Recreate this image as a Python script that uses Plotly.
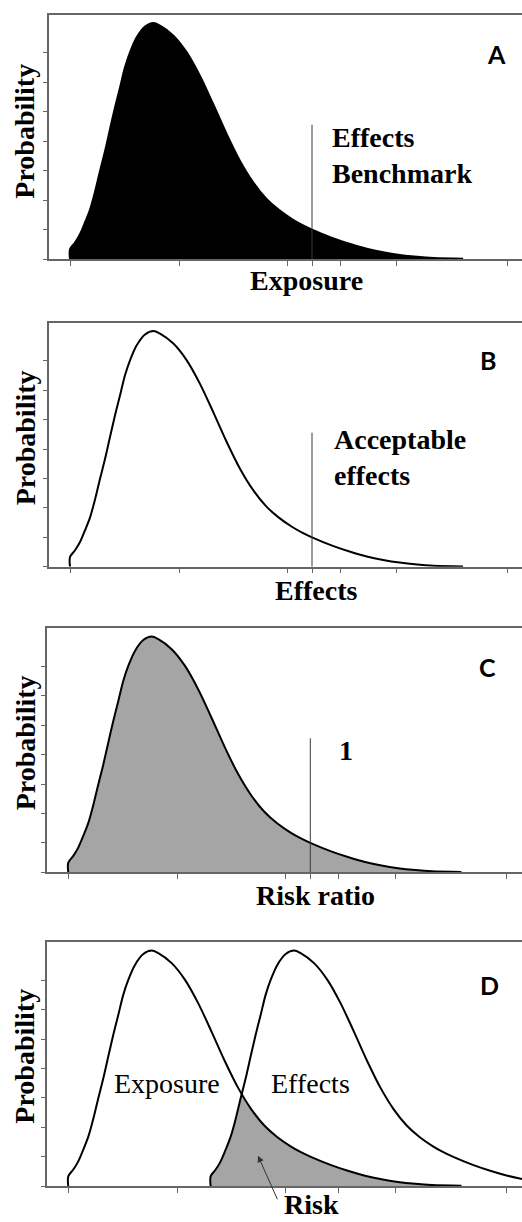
import plotly.graph_objects as go

# ---------------- data ----------------
# right-skewed probability curve (panels A, B, C and the "Exposure" curve of D)
curve_x = [0.000, 0.000, 0.046, 0.091, 0.137, 0.183, 0.228, 0.274, 0.320, 0.365, 0.411,
           0.457, 0.502, 0.548, 0.609, 0.685, 0.761, 0.822, 0.944,
           1.066, 1.187, 1.309, 1.430, 1.550, 1.670, 1.790, 1.910, 2.030, 2.120,
           2.210, 2.400, 2.560, 2.710, 2.860, 3.010, 3.170, 3.320, 3.590]
curve_y = [0.00, 0.33, 0.56, 0.84, 1.24, 1.68, 2.28, 2.99, 3.67, 4.41, 5.15,
           5.83, 6.51, 7.02, 7.53, 7.90, 8.02, 7.93, 7.59,
           7.02, 6.22, 5.25, 4.25, 3.35, 2.62, 2.06, 1.66, 1.35, 1.16,
           1.00, 0.71, 0.51, 0.35, 0.23, 0.14, 0.075, 0.035, 0.01]

# "Effects" curve of panel D (same shape, further right)
effects_x = [1.300, 1.300, 1.346, 1.391, 1.437, 1.483, 1.528, 1.574, 1.620, 1.665, 1.711,
             1.757, 1.802, 1.848, 1.909, 1.985, 2.061, 2.122, 2.244,
             2.366, 2.487, 2.609, 2.730, 2.850, 2.970, 3.090, 3.210, 3.330, 3.420,
             3.510, 3.700, 3.860, 4.010, 4.160, 4.310, 4.470, 4.620, 4.890]
effects_y = [0.00, 0.33, 0.56, 0.84, 1.24, 1.68, 2.28, 2.99, 3.67, 4.41, 5.15,
             5.83, 6.51, 7.02, 7.53, 7.90, 8.02, 7.93, 7.59,
             7.02, 6.22, 5.25, 4.25, 3.35, 2.62, 2.06, 1.66, 1.35, 1.16,
             1.00, 0.71, 0.51, 0.35, 0.23, 0.14, 0.075, 0.035, 0.01]

# where the two panel-D curves cross
cross_x = 1.583
cross_y = 3.15

# threshold line (benchmark / acceptable effects / risk ratio = 1)
threshold_x = 2.21
threshold_top = 4.56

x_ticks_abc = [0, 1.0, 1.985, 2.21, 2.47, 2.985, 4.0]
x_ticks_d = [0, 1.0, 1.985, 2.47, 2.985, 4.0]
y_ticks = [0, 1, 2, 3, 4, 5, 6, 7]

panel_letters = ["A", "B", "C", "D"]
x_titles = ["Exposure", "Effects", "Risk ratio"]
threshold_texts = ["Effects<br>Benchmark", "Acceptable<br>effects", "1"]

# ---------------- layout helpers ----------------
W, H = 522, 1222
def px(x):
    return x / W
def py(y):
    return 1 - y / H

SERIF = "Liberation Serif, Times New Roman, serif"
SANS = "Lato, Open Sans, sans-serif"
AXC = "#666666"
GRAY = "#a5a5a5"

# panel plot areas in pixels: (left, top, bottom, x-range)
panels = [
    (49.0, 14.7, 259.0, [-0.192, 4.128]),
    (49.0, 322.7, 566.7, [-0.192, 4.128]),
    (46.7, 628.3, 872.3, [-0.197, 4.143]),
    (46.7, 942.3, 1186.0, [-0.197, 4.143]),
]

fig = go.Figure()

def axes(i):
    return ("x" if i == 0 else f"x{i+1}", "y" if i == 0 else f"y{i+1}")

def add_curve(i, xs, ys, fill=None, fillcolor=None):
    xa, ya = axes(i)
    fig.add_trace(go.Scatter(
        x=xs, y=ys, xaxis=xa, yaxis=ya, mode="lines",
        line=dict(color="black", width=2, shape="spline", smoothing=0.9),
        fill=fill, fillcolor=fillcolor, hoverinfo="skip"))

def add_threshold(i):
    xa, ya = axes(i)
    fig.add_trace(go.Scatter(
        x=[threshold_x, threshold_x], y=[0, threshold_top], xaxis=xa, yaxis=ya,
        mode="lines", line=dict(color="#3a3a3a", width=1), hoverinfo="skip"))

# Panel A: black-filled exposure distribution
add_curve(0, curve_x, curve_y, fill="tozeroy", fillcolor="black")
add_threshold(0)
# Panel B: outline only
add_curve(1, curve_x, curve_y)
add_threshold(1)
# Panel C: gray filled
add_curve(2, curve_x, curve_y, fill="tozeroy", fillcolor=GRAY)
add_threshold(2)
# Panel D: overlap region (risk), then two outlines
risk_x = [x for x in effects_x if x < cross_x] + [cross_x] + [x for x in curve_x if x > cross_x]
risk_y = ([y for x, y in zip(effects_x, effects_y) if x < cross_x] + [cross_y]
          + [y for x, y in zip(curve_x, curve_y) if x > cross_x])
fig.add_trace(go.Scatter(x=risk_x, y=risk_y, xaxis="x4", yaxis="y4", mode="lines",
                         line=dict(width=0, color=GRAY, shape="spline", smoothing=0.5),
                         fill="tozeroy", fillcolor=GRAY, hoverinfo="skip"))
add_curve(3, curve_x, curve_y)
add_curve(3, effects_x, effects_y)

layout = dict(width=W, height=H, margin=dict(l=0, r=0, t=0, b=0),
              paper_bgcolor="white", plot_bgcolor="white", showlegend=False)

for i, (left, top, bottom, xr) in enumerate(panels):
    xk = "xaxis" if i == 0 else f"xaxis{i+1}"
    yk = "yaxis" if i == 0 else f"yaxis{i+1}"
    xa, ya = axes(i)
    layout[xk] = dict(domain=[px(left), 1], range=xr, anchor=ya,
                      showline=True, linecolor=AXC, linewidth=1.5, mirror=True,
                      ticks="outside", ticklen=5, tickwidth=1, tickcolor=AXC,
                      tickvals=x_ticks_abc if i < 3 else x_ticks_d,
                      showticklabels=False, showgrid=False, zeroline=False, fixedrange=True)
    layout[yk] = dict(domain=[py(bottom), py(top)], range=[0, 8.3], anchor=xa,
                      showline=True, linecolor=AXC, linewidth=1.5,
                      ticks="outside", ticklen=4, tickwidth=1, tickcolor=AXC,
                      tickvals=y_ticks, showticklabels=False,
                      showgrid=False, zeroline=False, fixedrange=True)

fig.update_layout(**layout)

ann = []
def text(t, x, y, size, family=SERIF, bold=True, xanchor="center", yanchor="middle",
         align="center", angle=0):
    ann.append(dict(text=f"<b>{t}</b>" if bold else t, x=px(x), y=py(y),
                    xref="paper", yref="paper", showarrow=False,
                    xanchor=xanchor, yanchor=yanchor, align=align, textangle=angle,
                    font=dict(family=family, size=size, color="black")))

# y-axis titles
for yc in [131.7, 438.3, 743.3, 1056.7]:
    text("Probability", 25, yc, 28, angle=-90)
# panel letters
for letter, (xc, yc) in zip(panel_letters, [(496, 54), (488, 360), (487, 667), (489, 985)]):
    text(letter, xc, yc, 25, family=SANS)
# x-axis titles
for t, (xc, yc) in zip(x_titles, [(306, 280), (316, 590), (315, 895)]):
    text(t, xc, yc, 28)
# threshold texts
text(threshold_texts[0], 330, 155, 28, xanchor="left", align="left")
text(threshold_texts[1], 331.7, 458, 28, xanchor="left", align="left")
text(threshold_texts[2], 346, 750, 28)
# panel D labels
text("Exposure", 167, 1083, 28, bold=False)
text("Effects", 310, 1083, 28, bold=False)
text("Risk", 311, 1204, 28)
# arrow for risk
ann.append(dict(x=px(258), y=py(1155.7), xref="paper", yref="paper", text="",
                showarrow=True, ax=20, ay=45, arrowhead=2, arrowsize=1.3,
                arrowwidth=1, arrowcolor="#333333", standoff=0))

fig.update_layout(annotations=ann)
fig.write_html("out.html")
